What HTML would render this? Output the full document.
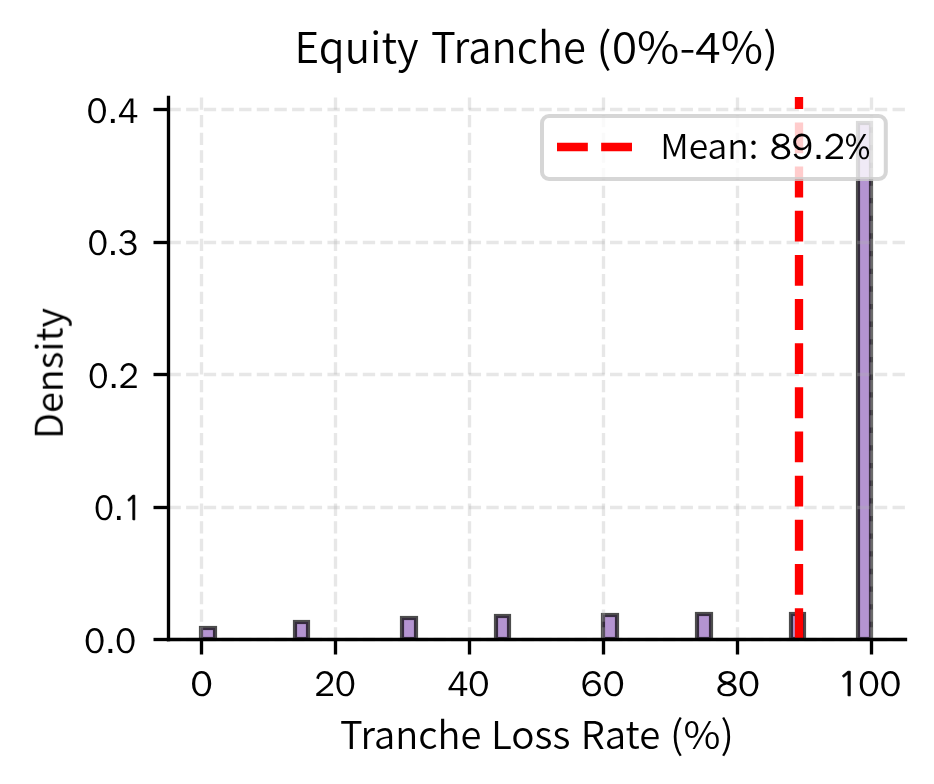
<!DOCTYPE html><html><head><meta charset="utf-8"><title>Equity Tranche (0%-4%)</title>
<style>html,body{margin:0;padding:0;background:#fff;overflow:hidden;width:934px;height:784px;}svg{display:block;}text{font-family:'Noto Sans CJK KR DemiLight', 'Noto Sans CJK KR', 'Liberation Sans', sans-serif;fill:#000;}</style></head><body>
<svg width="934" height="784" viewBox="0 0 934 784">
<rect x="0" y="0" width="934" height="784" fill="#fff"/>
<defs><clipPath id="ax"><rect x="168.50" y="97.00" width="737.00" height="542.50"/></clipPath></defs>
<g clip-path="url(#ax)" fill="#9467bd" fill-opacity="0.7" stroke="#000" stroke-opacity="0.7" stroke-width="4.17">
<rect x="201.00" y="628.00" width="14.00" height="11.00"/>
<rect x="295.00" y="622.00" width="13.00" height="17.00"/>
<rect x="402.00" y="618.00" width="14.00" height="21.00"/>
<rect x="496.00" y="616.00" width="13.00" height="23.00"/>
<rect x="603.00" y="615.00" width="14.00" height="24.00"/>
<rect x="697.00" y="614.00" width="14.00" height="25.00"/>
<rect x="791.00" y="614.00" width="13.00" height="25.00"/>
<rect x="858.00" y="123.00" width="13.00" height="516.00"/>
</g>
<g stroke="#b0b0b0" stroke-opacity="0.3" stroke-width="3.33" stroke-dasharray="12.33 5.33" fill="none">
<line x1="201.50" y1="639.50" x2="201.50" y2="97.50"/>
<line x1="335.50" y1="639.50" x2="335.50" y2="97.50"/>
<line x1="469.50" y1="639.50" x2="469.50" y2="97.50"/>
<line x1="603.50" y1="639.50" x2="603.50" y2="97.50"/>
<line x1="737.50" y1="639.50" x2="737.50" y2="97.50"/>
<line x1="871.50" y1="639.50" x2="871.50" y2="97.50"/>
<line x1="168.50" y1="639.50" x2="905.50" y2="639.50"/>
<line x1="168.50" y1="507.50" x2="905.50" y2="507.50"/>
<line x1="168.50" y1="374.50" x2="905.50" y2="374.50"/>
<line x1="168.50" y1="242.50" x2="905.50" y2="242.50"/>
<line x1="168.50" y1="109.50" x2="905.50" y2="109.50"/>
</g>
<g stroke="#000" stroke-width="3.33">
<line x1="201.50" y1="639.50" x2="201.50" y2="654.50"/>
<line x1="335.50" y1="639.50" x2="335.50" y2="654.50"/>
<line x1="469.50" y1="639.50" x2="469.50" y2="654.50"/>
<line x1="603.50" y1="639.50" x2="603.50" y2="654.50"/>
<line x1="737.50" y1="639.50" x2="737.50" y2="654.50"/>
<line x1="871.50" y1="639.50" x2="871.50" y2="654.50"/>
<line x1="168.50" y1="639.50" x2="153.50" y2="639.50"/>
<line x1="168.50" y1="507.50" x2="153.50" y2="507.50"/>
<line x1="168.50" y1="374.50" x2="153.50" y2="374.50"/>
<line x1="168.50" y1="242.50" x2="153.50" y2="242.50"/>
<line x1="168.50" y1="109.50" x2="153.50" y2="109.50"/>
</g>
<line clip-path="url(#ax)" x1="799.00" y1="639.00" x2="799.00" y2="92.50" stroke="#f00" stroke-width="8.33" stroke-dasharray="30.83 13.33"/>
<g stroke="#000" stroke-width="3.33" stroke-linecap="square">
<line x1="168.50" y1="639.50" x2="168.50" y2="97.50"/>
<line x1="168.50" y1="639.50" x2="905.50" y2="639.50"/>
</g>
<rect x="542.00" y="116.00" width="343.80" height="62.90" rx="7.00" fill="#fff" fill-opacity="0.8" stroke="#ccc" stroke-opacity="0.8" stroke-width="4.00"/>
<line x1="557.00" y1="147.00" x2="632.00" y2="147.00" stroke="#f00" stroke-width="8.33" stroke-dasharray="30.83 13.33"/>
<g style="filter:grayscale(1)">
<text x="294.57" y="62.80" font-size="42.00" textLength="124.05" lengthAdjust="spacingAndGlyphs">Equity</text>
<text x="430.91" y="62.80" font-size="42.00" textLength="155.02" lengthAdjust="spacingAndGlyphs">Tranche</text>
<text x="596.33" y="62.80" font-size="42.00" textLength="182.04" lengthAdjust="spacingAndGlyphs">(0%-4%)</text>
<text x="339.91" y="749.25" font-size="38.80" textLength="141.48" lengthAdjust="spacingAndGlyphs">Tranche</text>
<text x="490.90" y="749.25" font-size="38.80" textLength="79.43" lengthAdjust="spacingAndGlyphs">Loss</text>
<text x="580.83" y="749.25" font-size="38.80" textLength="79.35" lengthAdjust="spacingAndGlyphs">Rate</text>
<text x="670.11" y="749.25" font-size="38.80" textLength="63.66" lengthAdjust="spacingAndGlyphs">(%)</text>
<text x="62.75" y="438.95" font-size="37.60" textLength="130.98" lengthAdjust="spacingAndGlyphs" transform="rotate(-90 62.75 438.95)">Density</text>
<text x="660.19" y="159.10" font-size="34.65" textLength="98.10" lengthAdjust="spacingAndGlyphs">Mean:</text>
<text x="770.00" y="159.10" font-size="36.50" style="font-family:'WenQuanYi Zen Hei', 'Noto Sans CJK KR', sans-serif" textLength="100.07" lengthAdjust="spacingAndGlyphs">89.2%</text>
<text x="136.13" y="652.75" font-size="35.80" text-anchor="end" style="font-family:'WenQuanYi Zen Hei', 'Noto Sans CJK KR', sans-serif" textLength="51.89" lengthAdjust="spacingAndGlyphs">0.0</text>
<text x="142.26" y="519.80" font-size="35.80" text-anchor="end" style="font-family:'WenQuanYi Zen Hei', 'Noto Sans CJK KR', sans-serif" textLength="48.07" lengthAdjust="spacingAndGlyphs">0.<tspan style="font-family:NanumGothic, sans-serif;font-size:34px;stroke:#000;stroke-width:0.7px">1</tspan></text>
<text x="138.58" y="387.80" font-size="35.80" text-anchor="end" style="font-family:'WenQuanYi Zen Hei', 'Noto Sans CJK KR', sans-serif" textLength="50.24" lengthAdjust="spacingAndGlyphs">0.2</text>
<text x="137.98" y="254.60" font-size="35.80" text-anchor="end" style="font-family:'WenQuanYi Zen Hei', 'Noto Sans CJK KR', sans-serif" textLength="50.34" lengthAdjust="spacingAndGlyphs">0.3</text>
<text x="138.42" y="122.80" font-size="35.80" text-anchor="end" style="font-family:'WenQuanYi Zen Hei', 'Noto Sans CJK KR', sans-serif" textLength="51.57" lengthAdjust="spacingAndGlyphs">0.4</text>
<text x="201.56" y="695.60" font-size="35.80" text-anchor="middle" style="font-family:'WenQuanYi Zen Hei', 'Noto Sans CJK KR', sans-serif" textLength="22.22" lengthAdjust="spacingAndGlyphs">0</text>
<text x="335.04" y="695.60" font-size="35.80" text-anchor="middle" style="font-family:'WenQuanYi Zen Hei', 'Noto Sans CJK KR', sans-serif" textLength="41.40" lengthAdjust="spacingAndGlyphs">20</text>
<text x="468.33" y="695.60" font-size="35.80" text-anchor="middle" style="font-family:'WenQuanYi Zen Hei', 'Noto Sans CJK KR', sans-serif" textLength="42.31" lengthAdjust="spacingAndGlyphs">40</text>
<text x="602.73" y="695.60" font-size="35.80" text-anchor="middle" style="font-family:'WenQuanYi Zen Hei', 'Noto Sans CJK KR', sans-serif" textLength="43.75" lengthAdjust="spacingAndGlyphs">60</text>
<text x="737.95" y="695.60" font-size="35.80" text-anchor="middle" style="font-family:'WenQuanYi Zen Hei', 'Noto Sans CJK KR', sans-serif" textLength="43.77" lengthAdjust="spacingAndGlyphs">80</text>
<text x="869.37" y="695.60" font-size="35.80" text-anchor="middle" style="font-family:'WenQuanYi Zen Hei', 'Noto Sans CJK KR', sans-serif" textLength="63.47" lengthAdjust="spacingAndGlyphs"><tspan style="font-family:NanumGothic, sans-serif;font-size:34px;stroke:#000;stroke-width:0.7px">1</tspan>00</text>
</g>
</svg></body></html>
